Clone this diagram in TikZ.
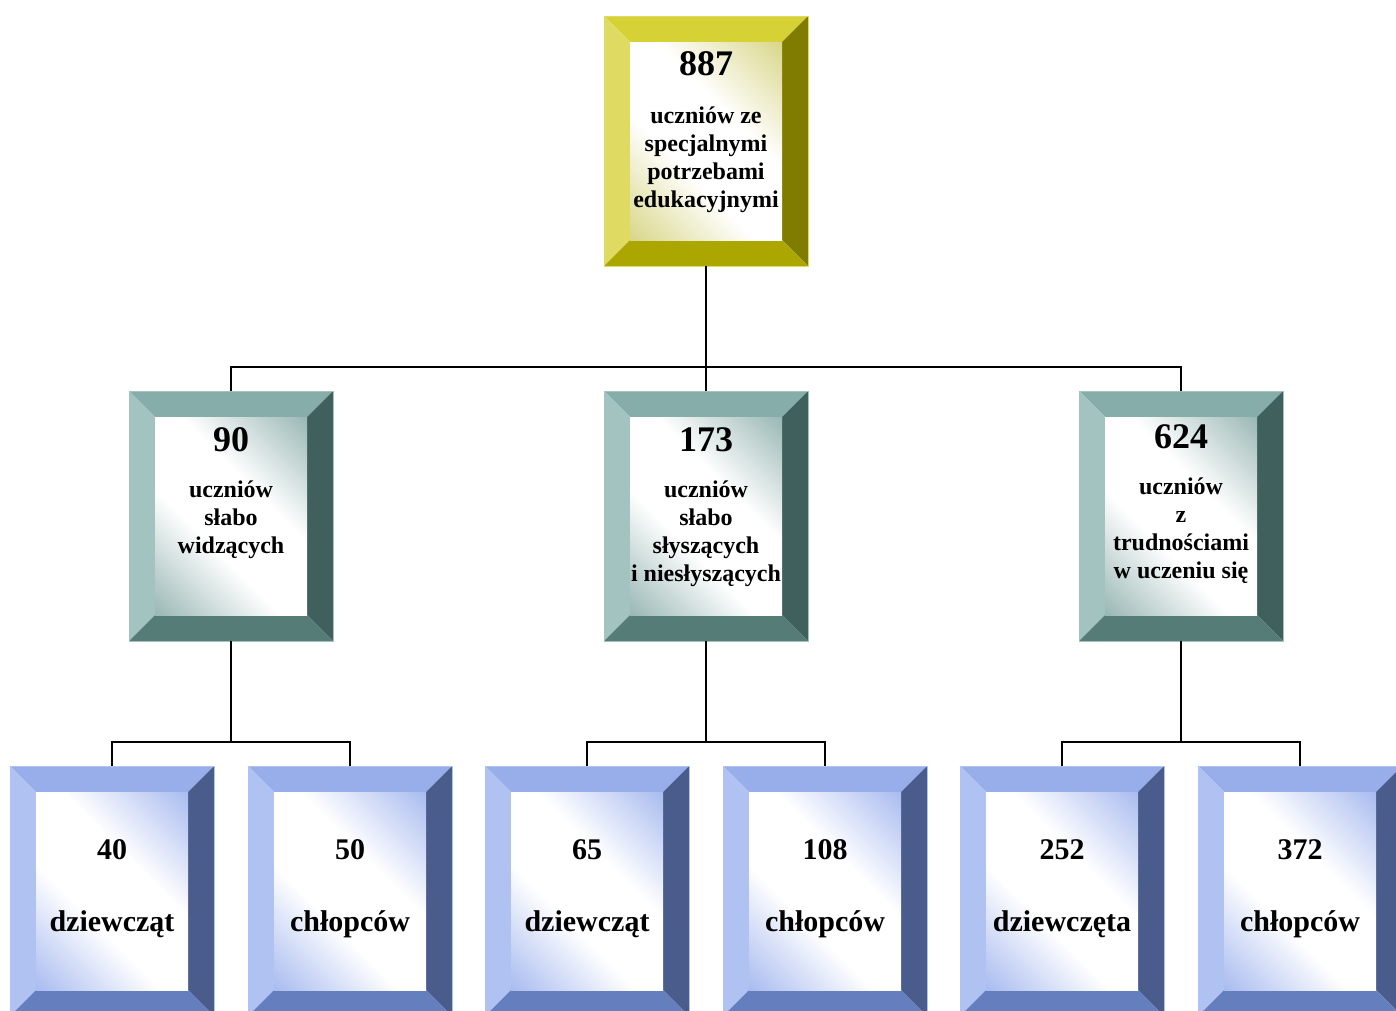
\documentclass[tikz,border=0pt]{standalone}
\usepackage{fontspec}
\setmainfont{Liberation Serif}
\usetikzlibrary{trees}

\definecolor{yelT}{HTML}{D6D236}
\definecolor{yelL}{HTML}{DFDB62}
\definecolor{yelR}{HTML}{807C00}
\definecolor{yelB}{HTML}{ABA600}
\definecolor{yelS}{HTML}{CFCC6A}
\definecolor{tealT}{HTML}{86ADAA}
\definecolor{tealL}{HTML}{A2C3C0}
\definecolor{tealR}{HTML}{3F605D}
\definecolor{tealB}{HTML}{567C78}
\definecolor{tealS}{HTML}{80A5A2}
\definecolor{bluT}{HTML}{97AEEB}
\definecolor{bluL}{HTML}{AFC2F2}
\definecolor{bluR}{HTML}{4A5C8C}
\definecolor{bluB}{HTML}{657FBE}
\definecolor{bluS}{HTML}{93AAEC}
\colorlet{tint}{bluS}
\pgfdeclareverticalshading[tint]{bevel shade}{100bp}{color(0bp)=(tint); color(8bp)=(tint); color(40bp)=(white); color(60bp)=(white); color(92bp)=(tint); color(100bp)=(tint)}

\begin{document}
\begin{tikzpicture}[x=1pt, y=-1pt,
  edge from parent path={(\tikzparentnode.south) |- ([yshift=24pt]\tikzchildnode.north) -- (\tikzchildnode.north)}]
% --- Layout & Styles --------------------------------------
\tikzstyle{bevel box}=[rectangle, minimum width=204pt, minimum height=250pt, inner sep=0pt, draw=#1L, line width=0.8pt,
  path picture={
    \coordinate (nw) at (path picture bounding box.north west);
    \coordinate (ne) at (path picture bounding box.north east);
    \coordinate (sw) at (path picture bounding box.south west);
    \coordinate (se) at (path picture bounding box.south east);
    \fill[#1T] (nw) -- (ne) -- ([shift={(-26pt,-26pt)}]ne) -- ([shift={(26pt,-26pt)}]nw) -- cycle;
    \fill[#1L] (nw) -- ([shift={(26pt,-26pt)}]nw) -- ([shift={(26pt,26pt)}]sw) -- (sw) -- cycle;
    \fill[#1R] (ne) -- (se) -- ([shift={(-26pt,26pt)}]se) -- ([shift={(-26pt,-26pt)}]ne) -- cycle;
    \fill[#1B] (sw) -- ([shift={(26pt,26pt)}]sw) -- ([shift={(-26pt,26pt)}]se) -- (se) -- cycle;
    \colorlet{tint}{#1S}
    \shade[shading=bevel shade, shading angle=-45] ([shift={(26pt,-26pt)}]nw) rectangle ([shift={(-26pt,26pt)}]se);
  }]
\tikzstyle{level 1}=[sibling distance=475pt, level distance=375pt]
\tikzstyle{level 2}=[sibling distance=238pt, level distance=375pt]
\tikzstyle{edge from parent}=[draw, black, line width=2pt]
\tikzstyle{num}=[font=\fontsize{36}{40}\selectfont\bfseries, inner sep=0pt]
\tikzstyle{desc}=[font=\fontsize{24}{28}\selectfont\bfseries, align=center, inner sep=0pt, anchor=base]
\tikzstyle{small num}=[font=\fontsize{30}{34}\selectfont\bfseries, inner sep=0pt]
\tikzstyle{word}=[font=\fontsize{30}{34}\selectfont\bfseries, inner sep=0pt, anchor=base]
\useasboundingbox (0,0) rectangle (1396,1010);
\clip (0,0) rectangle (1396,1010);
% --- Tree -------------------------------------------------
\node (0) [bevel box=yel] at (706,141) {}
  child{
    node (0-1) [bevel box=teal] {}
      child{node (0-1-1) [bevel box=blu] {}}
      child{node (0-1-2) [bevel box=blu] {}}
  }
  child{
    node (0-2) [bevel box=teal] {}
      child{node (0-2-1) [bevel box=blu] {}}
      child{node (0-2-2) [bevel box=blu] {}}
  }
  child{
    node (0-3) [bevel box=teal] {}
      child{node (0-3-1) [bevel box=blu] {}}
      child{node (0-3-2) [bevel box=blu] {}}
  }
  ;

% --- Node labels (base = last line) -----------------------
\node (0-n) [num] at ([yshift=-48pt]0.north) {887};
\node (0-d) [desc] at ([yshift=-192pt]0.north) {uczniów ze\\specjalnymi\\potrzebami\\edukacyjnymi};
\node (0-1-n) [num] at ([yshift=-49pt]0-1.north) {90};
\node (0-1-d) [desc] at ([yshift=-163pt]0-1.north) {uczniów\\słabo\\widzących};
\node (0-2-n) [num] at ([yshift=-49pt]0-2.north) {173};
\node (0-2-d) [desc] at ([yshift=-191pt]0-2.north) {uczniów\\słabo\\słyszących\\i niesłyszących};
\node (0-3-n) [num] at ([yshift=-46pt]0-3.north) {624};
\node (0-3-d) [desc] at ([yshift=-188pt]0-3.north) {uczniów\\z\\trudnościami\\w uczeniu się};
\node (0-1-1-n) [small num] at ([yshift=-84pt]0-1-1.north) {40};
\node (0-1-1-w) [word] at ([yshift=-166pt]0-1-1.north) {dziewcząt};
\node (0-1-2-n) [small num] at ([yshift=-84pt]0-1-2.north) {50};
\node (0-1-2-w) [word] at ([yshift=-166pt]0-1-2.north) {chłopców};
\node (0-2-1-n) [small num] at ([yshift=-84pt]0-2-1.north) {65};
\node (0-2-1-w) [word] at ([yshift=-166pt]0-2-1.north) {dziewcząt};
\node (0-2-2-n) [small num] at ([yshift=-84pt]0-2-2.north) {108};
\node (0-2-2-w) [word] at ([yshift=-166pt]0-2-2.north) {chłopców};
\node (0-3-1-n) [small num] at ([yshift=-84pt]0-3-1.north) {252};
\node (0-3-1-w) [word] at ([yshift=-166pt]0-3-1.north) {dziewczęta};
\node (0-3-2-n) [small num] at ([yshift=-84pt]0-3-2.north) {372};
\node (0-3-2-w) [word] at ([yshift=-166pt]0-3-2.north) {chłopców};

\end{tikzpicture}
\end{document}
